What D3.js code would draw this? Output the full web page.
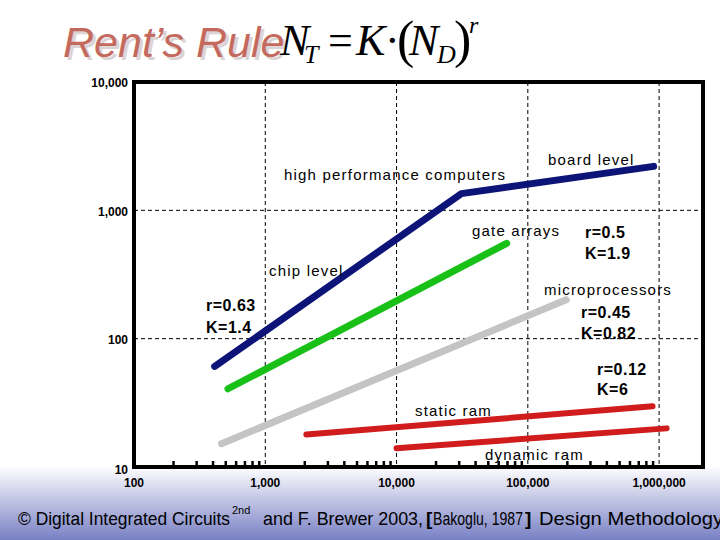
<!DOCTYPE html>
<html>
<head>
<meta charset="utf-8">
<script src="https://cdn.jsdelivr.net/npm/d3@7"></script>
<style>
  body { margin: 0; background: #fff; }
  svg { display: block; font-family: "Liberation Sans", Arial, sans-serif; }
</style>
</head>
<body>
<div id="chart"></div>
<script>
// Rent's rule curves: number of terminals vs number of gates (log-log)
const series = ["chip/board level", "gate arrays", "microprocessors", "static ram", "dynamic ram"];
const gates = [
  [412, 31200, 908000],
  [520, 69000],
  [464, 196000],
  [2056, 891000],
  [10000, 1140000]
];
const terminals = [
  [60.8, 1350, 2200],
  [40.7, 553],
  [15.2, 201],
  [17.9, 29.7],
  [14, 20]
];
const colorsList = ["#0c1478", "#18c018", "#c4c4c4", "#d01c1c", "#d01c1c"];

const xTicks = [100, 1000, 10000, 100000, 1000000];
const xTickLabels = ["100", "1,000", "10,000", "100,000", "1,000,000"];
const yTicks = [10, 100, 1000, 10000];
const yTickLabels = ["10", "100", "1,000", "10,000"];

const width = 720;
const height = 540;

const svg = d3.select("#chart")
  .append("svg")
  .attr("width", width)
  .attr("height", height);

// Footer gradient band
const defs = svg.append("defs");
const grad = defs.append("linearGradient")
  .attr("id", "foot")
  .attr("x1", 0).attr("y1", 0).attr("x2", 0).attr("y2", 1);
grad.append("stop").attr("offset", "0%").attr("stop-color", "#ffffff");
grad.append("stop").attr("offset", "100%").attr("stop-color", "#7880c4");
svg.append("rect")
  .attr("x", 0).attr("y", 466)
  .attr("width", width).attr("height", height - 466)
  .attr("fill", "url(#foot)");

// Scales
const x = d3.scaleLog().domain([100, 2160000]).range([134, 703]);
const y = d3.scaleLog().domain([10, 10000]).range([467, 82]);

// Grid lines
svg.append("g")
  .selectAll("line")
  .data(xTicks.slice(1))
  .join("line")
  .attr("x1", d => x(d)).attr("x2", d => x(d))
  .attr("y1", y(10000)).attr("y2", y(10))
  .attr("stroke", "#000")
  .attr("stroke-width", 1)
  .attr("stroke-dasharray", "4,3");

svg.append("g")
  .selectAll("line")
  .data([100, 1000])
  .join("line")
  .attr("x1", x(100)).attr("x2", x.range()[1])
  .attr("y1", d => y(d)).attr("y2", d => y(d))
  .attr("stroke", "#000")
  .attr("stroke-width", 1)
  .attr("stroke-dasharray", "4,3");

// Minor ticks on x axis
const minor = [];
for (let p = 100; p < 1000000; p *= 10) {
  for (let m = 2; m <= 9; m++) minor.push(p * m);
}
svg.append("g")
  .selectAll("line")
  .data(minor)
  .join("line")
  .attr("x1", d => x(d)).attr("x2", d => x(d))
  .attr("y1", y(10) - 6).attr("y2", y(10))
  .attr("stroke", "#000")
  .attr("stroke-width", 2.5);

// Frame
svg.append("rect")
  .attr("x", x(100)).attr("y", y(10000))
  .attr("width", x.range()[1] - x(100))
  .attr("height", y(10) - y(10000))
  .attr("fill", "none")
  .attr("stroke", "#000")
  .attr("stroke-width", 4);

// Tick labels
svg.append("g")
  .selectAll("text")
  .data(xTicks)
  .join("text")
  .attr("x", d => x(d))
  .attr("y", 487)
  .attr("text-anchor", "middle")
  .attr("font-size", 12)
  .attr("font-weight", "bold")
  .text((d, i) => xTickLabels[i]);

svg.append("g")
  .selectAll("text")
  .data(yTicks)
  .join("text")
  .attr("x", 128)
  .attr("y", d => y(d) + (d === 10 ? 3 : 1))
  .attr("dy", "0.35em")
  .attr("text-anchor", "end")
  .attr("font-size", 12)
  .attr("font-weight", "bold")
  .text((d, i) => yTickLabels[i]);

// Lines
const line = d3.line()
  .x(d => x(d[0]))
  .y(d => y(d[1]));

svg.append("g")
  .selectAll("path")
  .data(series)
  .join("path")
  .attr("d", (s, i) => line(gates[i].map((g, j) => [g, terminals[i][j]])))
  .attr("fill", "none")
  .attr("stroke", (s, i) => colorsList[i])
  .attr("stroke-width", (s, i) => i >= 3 ? 6 : 7)
  .attr("stroke-linecap", "round")
  .attr("stroke-linejoin", "round");

// Annotations
const labels = [
  { t: "high performance computers", x: 284, y: 180 },
  { t: "board level", x: 548, y: 165 },
  { t: "gate arrays", x: 472, y: 236 },
  { t: "chip level", x: 269, y: 276 },
  { t: "microprocessors", x: 544, y: 295 },
  { t: "static ram", x: 415, y: 416 },
  { t: "dynamic ram", x: 485, y: 460 }
];
svg.append("g")
  .selectAll("text")
  .data(labels)
  .join("text")
  .attr("x", d => d.x)
  .attr("y", d => d.y)
  .attr("font-size", 15)
  .attr("letter-spacing", 1.2)
  .text(d => d.t);

const params = [
  { t: "r=0.63", x: 206, y: 311 }, { t: "K=1.4", x: 206, y: 333 },
  { t: "r=0.5", x: 585, y: 238 }, { t: "K=1.9", x: 585, y: 259 },
  { t: "r=0.45", x: 581, y: 318 }, { t: "K=0.82", x: 581, y: 339 },
  { t: "r=0.12", x: 597, y: 375 }, { t: "K=6", x: 597, y: 395 }
];
svg.append("g")
  .selectAll("text")
  .data(params)
  .join("text")
  .attr("x", d => d.x)
  .attr("y", d => d.y)
  .attr("font-size", 16)
  .attr("font-weight", "bold")
  .attr("letter-spacing", 0.5)
  .text(d => d.t);

// Title with shadow
svg.append("text")
  .attr("x", 66).attr("y", 60)
  .attr("font-size", 43)
  .attr("font-style", "italic")
  .attr("fill", "#dcd4d4")
  .text("Rent’s Rule");
svg.append("text")
  .attr("x", 63).attr("y", 57)
  .attr("font-size", 43)
  .attr("font-style", "italic")
  .attr("fill", "#c4695e")
  .text("Rent’s Rule");

// Formula N_T = K · (N_D)^r
const f = svg.append("g")
  .attr("font-family", "'Liberation Serif', 'Times New Roman', serif")
  .attr("fill", "#000");
const parts = [
  { t: "N", x: 280, y: 55, s: 44, i: true },
  { t: "T", x: 304, y: 63, s: 26, i: true },
  { t: "=", x: 328, y: 55, s: 44, i: false },
  { t: "K", x: 356, y: 55, s: 44, i: true },
  { t: "·", x: 385, y: 55, s: 44, i: false },
  { t: "(", x: 397, y: 57, s: 52, i: false },
  { t: "N", x: 409, y: 55, s: 44, i: true },
  { t: "D", x: 437, y: 63, s: 26, i: true },
  { t: ")", x: 454, y: 57, s: 52, i: false },
  { t: "r", x: 469, y: 33, s: 24, i: true }
];
f.selectAll("text")
  .data(parts)
  .join("text")
  .attr("x", d => d.x)
  .attr("y", d => d.y)
  .attr("font-size", d => d.s)
  .attr("font-style", d => d.i ? "italic" : "normal")
  .text(d => d.t);

// Footer
const foot = svg.append("g").attr("font-size", 19).attr("fill", "#000");
foot.append("text").attr("x", 18).attr("y", 525)
  .attr("textLength", 212).attr("lengthAdjust", "spacingAndGlyphs")
  .text("© Digital Integrated Circuits");
foot.append("text").attr("x", 232).attr("y", 514).attr("font-size", 11).text("2nd");
foot.append("text").attr("x", 263).attr("y", 525)
  .attr("textLength", 160).attr("lengthAdjust", "spacingAndGlyphs")
  .text("and F. Brewer 2003,");
foot.append("text").attr("x", 426).attr("y", 525).attr("font-weight", "bold").text("[");
foot.append("text").attr("x", 433).attr("y", 525)
  .attr("textLength", 90).attr("lengthAdjust", "spacingAndGlyphs")
  .text("Bakoglu, 1987");
foot.append("text").attr("x", 525).attr("y", 525).attr("font-weight", "bold").text("]");
foot.append("text").attr("x", 539).attr("y", 525)
  .attr("textLength", 184).attr("lengthAdjust", "spacingAndGlyphs")
  .text("Design Methodology");
</script>
</body>
</html>
